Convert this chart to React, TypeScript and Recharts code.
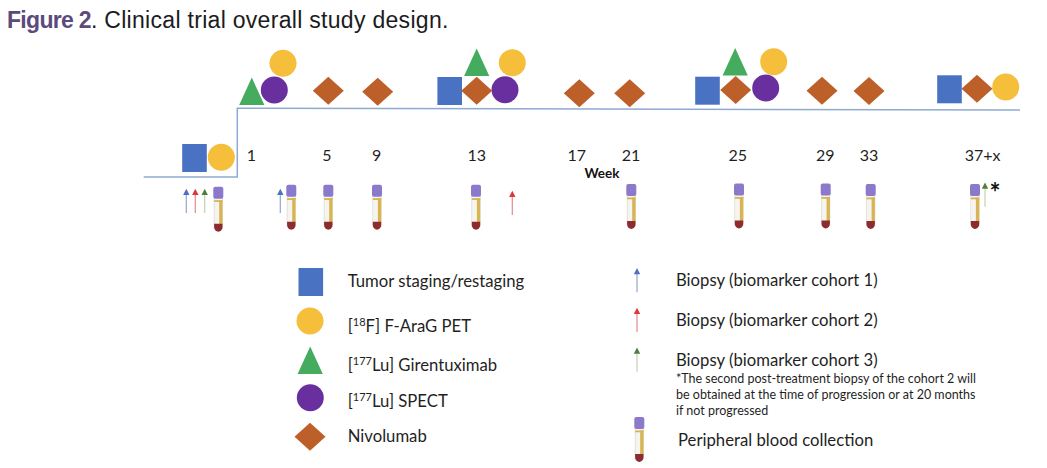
import React from "react";
import { ScatterChart, Scatter, XAxis, YAxis } from "recharts";

const W = 1047;
const H = 468;

const pts = (list: number[][]) => list.map(([x, y]) => ({ x, y }));

// timeline
const timeline = pts([[143.7, 177], [237.3, 177], [237.3, 108.3], [600, 109], [1020, 110]]);

// schedule marks + legend keys
const tumorStaging = pts([[194.5, 158], [449.7, 91], [707.5, 90.7], [949.5, 89.3], [310.8, 282]]);
const petScan = pts([[221.3, 157.3], [283, 63.3], [512.3, 62.7], [773.7, 61.7], [1005.7, 87], [310, 321]]);
const girentuximab = pts([[251.8, 91.3], [476.7, 62.3], [735.2, 61.7], [310.2, 360.2]]);
const spect = pts([[274.3, 90], [505, 89.7], [765.7, 88], [310.3, 397.7]]);
const nivolumab = pts([[328.3, 90.7], [377.7, 91.7], [476.7, 90.7], [579.3, 93.3], [629.7, 93.3], [735.7, 90], [822, 90.7], [869, 91], [977, 88.7], [310, 436.7]]);
const bloodTubes = pts([[218.3, 209.2], [291.3, 207.2], [328.3, 207.2], [377, 207.2], [476, 207.2], [631.3, 206.5], [739, 206], [825.7, 206], [870.7, 206.5], [975, 206.5], [639.3, 439.5]]);
const biopsyCohort1 = pts([[186.3, 201], [280.3, 201], [637, 280.3]]);
const biopsyCohort2 = pts([[195.3, 201], [512.3, 203], [637, 320]]);
const biopsyCohort3 = pts([[204.7, 201], [985, 194.7], [637, 359.7]]);

// week axis
const weekTickPositions = [251.3, 327, 376.7, 476.7, 576.7, 631, 737.7, 825.3, 869, 982.7];
const weekTickLabels = ["1", "5", "9", "13", "17", "21", "25", "29", "33", "37+x"];

// texts
const legendLeftLabels = [
  { x: 347.7, y: 281, sup: "", text: "Tumor staging/restaging" },
  { x: 347.7, y: 326, sup: "18", pre: "[", text: "F] F-AraG PET" },
  { x: 347.7, y: 365, sup: "177", pre: "[", text: "Lu] Girentuximab" },
  { x: 347.7, y: 401, sup: "177", pre: "[", text: "Lu] SPECT" },
  { x: 347.7, y: 436, sup: "", text: "Nivolumab" },
];
const legendRightLabels = [
  { x: 676, y: 280, text: "Biopsy (biomarker cohort 1)" },
  { x: 676, y: 320, text: "Biopsy (biomarker cohort 2)" },
  { x: 676, y: 359.5, text: "Biopsy (biomarker cohort 3)" },
  { x: 678, y: 440, text: "Peripheral blood collection" },
];
const footnoteLines = [
  { x: 676, y: 378, text: "*The second post-treatment biopsy of the cohort 2 will" },
  { x: 676, y: 394, text: "be obtained at the time of progression or at 20 months" },
  { x: 676, y: 410, text: "if not progressed" },
];
const weekTitle = [{ x: 602, y: 173, text: "Week" }];
const asterisk = [{ x: 995, y: 192, text: "*" }];
const figureTitle = [{ x: 7, y: 20, head: "Figure 2", text: ". Clinical trial overall study design." }];

const SANS = "Lato, Carlito, sans-serif";

const Square = ({ cx, cy }: any) => <rect x={cx - 12.3} y={cy - 14} width={24.6} height={28} fill="#4A72C2" />;
const Dot = (fill: string) => ({ cx, cy }: any) => <circle cx={cx} cy={cy} r={13.5} fill={fill} />;
const Triangle = ({ cx, cy }: any) => (
  <polygon points={`${cx},${cy - 13.7} ${cx + 12.6},${cy + 13.7} ${cx - 12.6},${cy + 13.7}`} fill="#45AB5E" />
);
const Diamond = ({ cx, cy }: any) => (
  <polygon points={`${cx},${cy - 14} ${cx + 15.5},${cy} ${cx},${cy + 14} ${cx - 15.5},${cy}`} fill="#BD5F28" />
);
const Tube = ({ cx, cy }: any) => {
  const t = cy - 22.5;
  return (
    <g>
      <rect x={cx - 4.2} y={t + 10} width={8.4} height={32} fill="#F5F4EE" stroke="#D4D4CF" strokeWidth={0.6} />
      <rect x={cx - 4.2} y={t + 13.5} width={8.4} height={1.8} fill="#D8B452" />
      <rect x={cx + 0.9} y={t + 13.5} width={3.3} height={24} fill="#D8B452" />
      <path d={`M${cx - 4.2},${t + 37} h8.4 v3 a4.2,5 0 0 1 -8.4,0 z`} fill="#8C2C2E" />
      <rect x={cx - 5} y={t} width={10} height={12} rx={2} fill="#8B79CB" />
    </g>
  );
};
const Arrow = (head: string, shaft: string) => ({ cx, cy }: any) => (
  <g>
    <line x1={cx} y1={cy - 7} x2={cx} y2={cy + 12} stroke={shaft} strokeWidth={1.2} />
    <polygon points={`${cx},${cy - 12.3} ${cx + 3.2},${cy - 6} ${cx - 3.2},${cy - 6}`} fill={head} />
  </g>
);

const Label = (size: number, weight = 400, fill = "#1f1f1f") => ({ cx, cy, payload }: any) => (
  <text x={cx} y={cy} fontFamily={SANS} fontSize={size} fontWeight={weight} fill={fill} dominantBaseline="central">
    {payload.pre}
    {payload.sup ? <tspan fontSize={size * 0.66} dy={-5}>{payload.sup}</tspan> : null}
    {payload.sup ? <tspan dy={5}>{payload.text}</tspan> : payload.text}
  </text>
);
const CenterLabel = (size: number, weight: number) => ({ cx, cy, payload }: any) => (
  <text x={cx} y={cy} fontFamily={SANS} fontSize={size} fontWeight={weight} fill="#111" textAnchor="middle" dominantBaseline="central">
    {payload.text}
  </text>
);
const TitleLabel = ({ cx, cy, payload }: any) => (
  <text x={cx} y={cy} fontFamily="Liberation Sans, Arial, sans-serif" fontSize={23} letterSpacing={0.3} fill="#1b1b22" dominantBaseline="central">
    <tspan fontWeight={700} fill="#5B4A7C" letterSpacing={-0.7}>{payload.head}</tspan>
    {payload.text}
  </text>
);
const NoMark = () => null;

export default function App() {
  return (
    <div style={{ position: "absolute", left: 0, top: -1, width: W, height: H + 1, background: "#fff" }}>
      <ScatterChart width={W} height={H + 1} margin={{ top: 0, right: 0, bottom: 0, left: 0 }}>
        <XAxis
          type="number"
          dataKey="x"
          orientation="top"
          height={1}
          domain={[0, W]}
          ticks={weekTickPositions}
          interval={0}
          axisLine={false}
          tickLine={false}
          tickSize={0}
          tickMargin={0}
          tickFormatter={(v: number) => weekTickLabels[weekTickPositions.indexOf(v)]}
          tick={{ fontSize: 16, fontFamily: SANS, fill: "#1f1f1f", dy: 161 }}
        />
        <YAxis type="number" dataKey="y" domain={[0, H]} reversed hide />
        <Scatter data={timeline} line={{ stroke: "#8FAAD0", strokeWidth: 1.5 }} lineType="joint" shape={NoMark} isAnimationActive={false} />
        <Scatter data={tumorStaging} shape={Square} isAnimationActive={false} />
        <Scatter data={petScan} shape={Dot("#F5BE3B")} isAnimationActive={false} />
        <Scatter data={girentuximab} shape={Triangle} isAnimationActive={false} />
        <Scatter data={spect} shape={Dot("#6A2F9E")} isAnimationActive={false} />
        <Scatter data={nivolumab} shape={Diamond} isAnimationActive={false} />
        <Scatter data={bloodTubes} shape={Tube} isAnimationActive={false} />
        <Scatter data={biopsyCohort1} shape={Arrow("#4A72C2", "#93A7CC")} isAnimationActive={false} />
        <Scatter data={biopsyCohort2} shape={Arrow("#E0353A", "#E58A8A")} isAnimationActive={false} />
        <Scatter data={biopsyCohort3} shape={Arrow("#4F7F3A", "#C3D0B2")} isAnimationActive={false} />
        <Scatter data={legendLeftLabels} shape={Label(16.7)} isAnimationActive={false} />
        <Scatter data={legendRightLabels} shape={Label(16.7)} isAnimationActive={false} />
        <Scatter data={footnoteLines} shape={Label(12.5)} isAnimationActive={false} />
        <Scatter data={weekTitle} shape={CenterLabel(13.5, 700)} isAnimationActive={false} />
        <Scatter data={asterisk} shape={CenterLabel(26, 700)} isAnimationActive={false} />
        <Scatter data={figureTitle} shape={TitleLabel} isAnimationActive={false} />
      </ScatterChart>
    </div>
  );
}
